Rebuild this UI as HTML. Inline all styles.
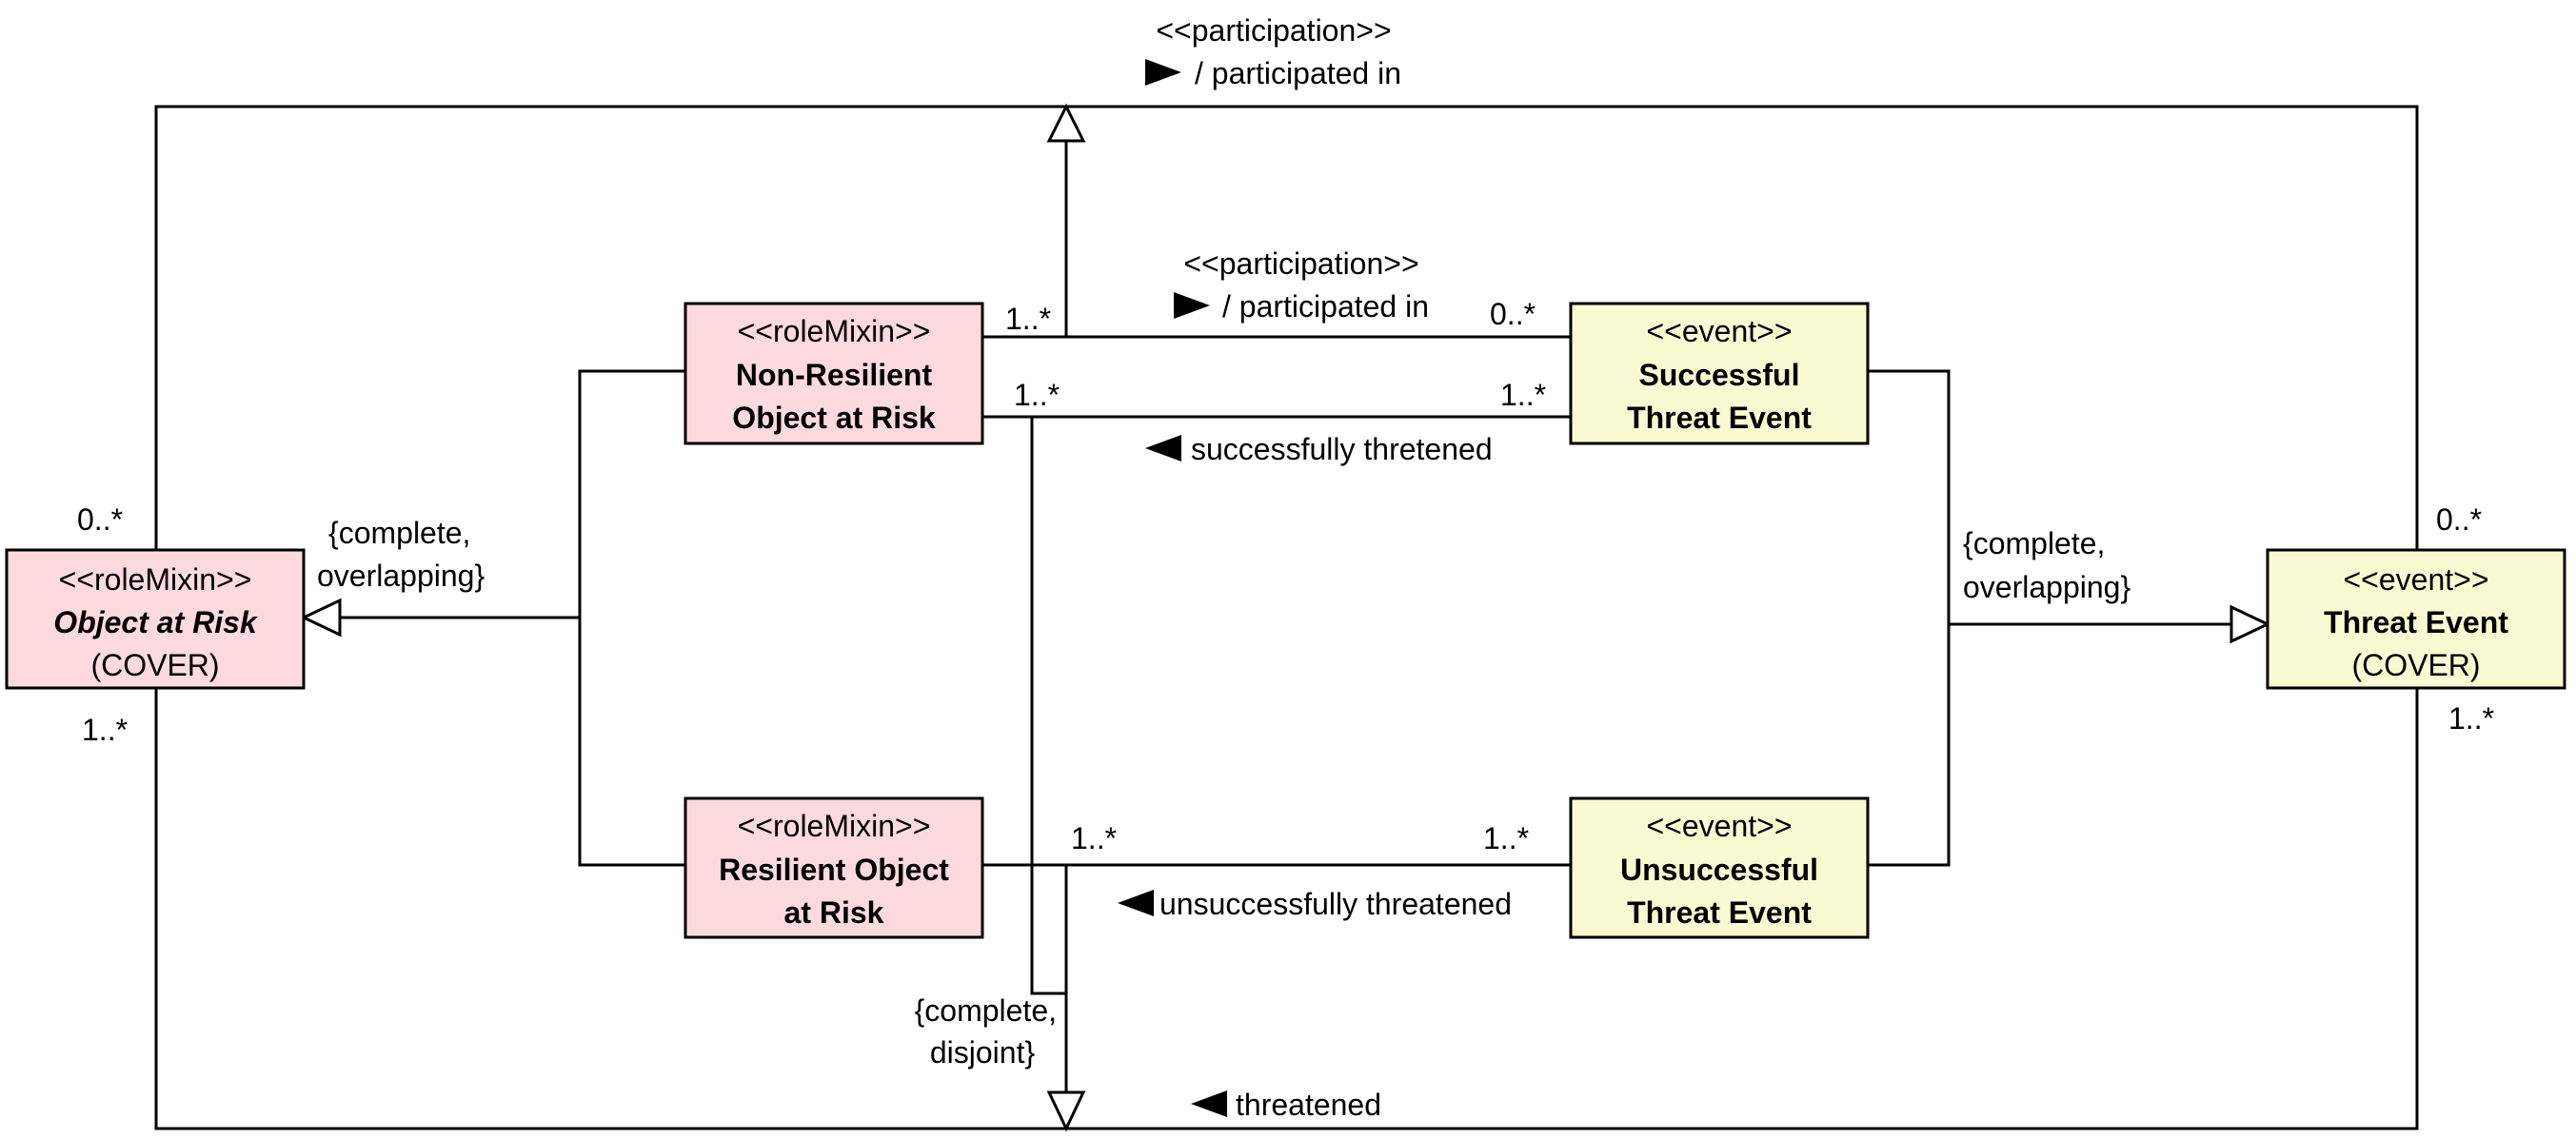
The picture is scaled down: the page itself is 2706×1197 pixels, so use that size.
<!DOCTYPE html>
<html><head><meta charset="utf-8"><style>
html,body{margin:0;padding:0;background:#fff;}
svg{display:block;}
text{font-family:"Liberation Sans",sans-serif;font-size:32px;fill:#000;}
.b{font-weight:bold;}
</style></head><body>
<svg width="2706" height="1197" viewBox="0 0 2706 1197" xmlns="http://www.w3.org/2000/svg">
<g stroke="#000" stroke-width="3" fill="none">
<polyline points="164,578 164,112 2539,112 2539,578"/>
<polyline points="164,723 164,1186 2539,1186 2539,723"/>
<line x1="1120" y1="354" x2="1120" y2="148"/>
<line x1="1032" y1="354" x2="1650" y2="354"/>
<line x1="1032" y1="438" x2="1650" y2="438"/>
<line x1="1032" y1="909" x2="1650" y2="909"/>
<polyline points="1084,438 1084,1044 1120,1044"/>
<line x1="1120" y1="909" x2="1120" y2="1148"/>
<polyline points="720,390 609,390 609,909 720,909"/>
<line x1="609" y1="649" x2="357" y2="649"/>
<polyline points="1962,390 2047,390 2047,909 1962,909"/>
<line x1="2047" y1="656" x2="2344" y2="656"/>
</g>
<g stroke="#000" stroke-width="3" fill="#fff">
<polygon points="1120,112 1102,148 1138,148"/>
<polygon points="1120,1186 1102,1148 1138,1148"/>
<polygon points="319,649 357,631 357,667"/>
<polygon points="2382,656 2344,638 2344,674"/>
</g>
<g stroke="#000" stroke-width="3">
<rect x="7" y="578" width="312" height="145" fill="#fddadd"/>
<rect x="720" y="319" width="312" height="147" fill="#fddadd"/>
<rect x="720" y="839" width="312" height="146" fill="#fddadd"/>
<rect x="1650" y="319" width="312" height="147" fill="#fafad2"/>
<rect x="1650" y="839" width="312" height="146" fill="#fafad2"/>
<rect x="2382" y="578" width="312" height="145" fill="#fafad2"/>
</g>
<g text-anchor="middle">
<text x="163" y="620">&lt;&lt;roleMixin&gt;&gt;</text>
<text x="163" y="665" class="b" font-style="italic">Object at Risk</text>
<text x="163" y="710">(COVER)</text>
<text x="876" y="359">&lt;&lt;roleMixin&gt;&gt;</text>
<text x="876" y="405" class="b">Non-Resilient</text>
<text x="876" y="450" class="b">Object at Risk</text>
<text x="876" y="879">&lt;&lt;roleMixin&gt;&gt;</text>
<text x="876" y="925" class="b">Resilient Object</text>
<text x="876" y="970" class="b">at Risk</text>
<text x="1806" y="359">&lt;&lt;event&gt;&gt;</text>
<text x="1806" y="405" class="b">Successful</text>
<text x="1806" y="450" class="b">Threat Event</text>
<text x="1806" y="879">&lt;&lt;event&gt;&gt;</text>
<text x="1806" y="925" class="b">Unsuccessful</text>
<text x="1806" y="970" class="b">Threat Event</text>
<text x="2538" y="620">&lt;&lt;event&gt;&gt;</text>
<text x="2538" y="665" class="b">Threat Event</text>
<text x="2538" y="710">(COVER)</text>
<text x="1338" y="43">&lt;&lt;participation&gt;&gt;</text>
<text x="1367" y="288">&lt;&lt;participation&gt;&gt;</text>
</g>
<g fill="#000">
<polygon points="1203,62 1241,76 1203,90"/>
<polygon points="1233,307 1271,321 1233,335"/>
<polygon points="1241,457 1203,471 1241,485"/>
<polygon points="1212,935 1174,949 1212,963"/>
<polygon points="1289,1146 1251,1160 1289,1174"/>
</g>
<text x="1255" y="88">/ participated in</text>
<text x="1284" y="333">/ participated in</text>
<text x="1251" y="483">successfully thretened</text>
<text x="1218" y="961">unsuccessfully threatened</text>
<text x="1298" y="1172">threatened</text>
<text x="1056" y="346">1..*</text>
<text x="1565" y="341">0..*</text>
<text x="1065" y="426">1..*</text>
<text x="1576" y="426">1..*</text>
<text x="1125" y="892">1..*</text>
<text x="1558" y="892">1..*</text>
<text x="81" y="557">0..*</text>
<text x="86" y="778">1..*</text>
<text x="2559" y="557">0..*</text>
<text x="2572" y="766">1..*</text>
<text x="345" y="571">{complete,</text>
<text x="333" y="616">overlapping}</text>
<text x="2062" y="582" font-size="34">{complete,</text>
<text x="2062" y="628" font-size="34">overlapping}</text>
<text x="1110" y="1073" text-anchor="end">{complete,</text>
<text x="1032" y="1117" text-anchor="middle">disjoint}</text>
</svg>
</body></html>
